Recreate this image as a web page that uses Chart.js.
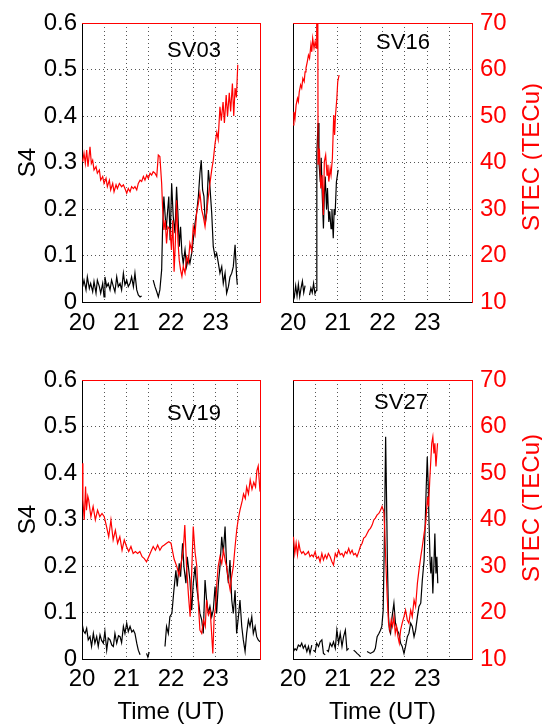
<!DOCTYPE html>
<html>
<head>
<meta charset="utf-8">
<script src="https://cdn.jsdelivr.net/npm/chart.js@4.4.0/dist/chart.umd.min.js"></script>
<style>
body { margin: 0; background: #fff; }
#wrap { position: relative; width: 542px; height: 727px; }
canvas { position: absolute; }
</style>
</head>
<body>
<div id="wrap">
  <canvas id="sv03" width="271" height="345" style="left:0;top:0"></canvas>
  <canvas id="sv16" width="271" height="345" style="left:271px;top:0"></canvas>
  <canvas id="sv19" width="271" height="382" style="left:0;top:345px"></canvas>
  <canvas id="sv27" width="271" height="382" style="left:271px;top:345px"></canvas>
</div>
<script>
// axis ticks
var timeTicks = [20, 21, 22, 23];
var s4Range = [0, 0.6];
var tecRange = [10, 70];

// [time (UT hours), S4] and [time, STEC (TECu)], null = gap
var sv03_s4 = [[20.015,0.033],[20.045,0.047],[20.09,0.026],[20.12,0.054],[20.165,0.029],[20.195,0.040],[20.24,0.022],[20.27,0.044],[20.315,0.019],[20.345,0.047],[20.39,0.033],[20.42,0.019],[20.465,0.040],[20.495,0.011],[20.515,0.054],[20.555,0.033],[20.59,0.040],[20.63,0.026],[20.665,0.047],[20.705,0.033],[20.74,0.022],[20.78,0.054],[20.815,0.033],[20.855,0.040],[20.89,0.026],[20.93,0.062],[20.965,0.037],[21.005,0.047],[21.04,0.033],[21.08,0.040],[21.115,0.054],[21.155,0.033],[21.19,0.062],[21.23,0.026],[21.265,0.015],[21.305,0.011],[21.34,0.013],[21.37,null],
  [21.6,0.047],[21.64,0.033],[21.68,0.022],[21.715,0.011],[21.75,0.026],[21.79,0.069],[21.81,0.155],[21.84,0.227],[21.89,0.155],[21.92,0.191],[21.95,0.227],[21.98,0.133],[22.015,0.255],[22.05,0.184],[22.09,0.148],[22.125,0.248],[22.155,0.191],[22.185,0.119],[22.215,0.162],[22.245,0.105],[22.275,0.083],[22.315,0.112],[22.35,0.076],[22.39,0.097],[22.425,0.083],[22.465,0.105],[22.5,0.133],[22.54,0.169],[22.575,0.191],[22.615,0.227],[22.65,0.277],[22.68,0.305],[22.71,0.241],[22.74,0.227],[22.77,0.169],[22.8,0.191],[22.84,0.284],[22.875,0.248],[22.915,0.191],[22.95,0.119],[22.99,0.097],[23.025,0.105],[23.065,0.083],[23.1,0.062],[23.14,0.076],[23.175,0.040],[23.215,0.062],[23.25,0.019],[23.29,0.033],[23.325,0.054],[23.365,0.062],[23.4,0.076],[23.44,0.123],[23.475,0.054],[23.49,0.037]];
var sv03_tec = [[20.015,40.2],[20.045,42.0],[20.075,39.8],[20.105,42.7],[20.135,39.1],[20.18,43.4],[20.21,39.8],[20.24,40.5],[20.27,38.4],[20.315,39.1],[20.345,37.7],[20.39,38.4],[20.42,36.2],[20.465,37.0],[20.495,35.5],[20.54,36.6],[20.57,34.8],[20.615,36.2],[20.645,34.1],[20.69,35.5],[20.72,33.7],[20.765,35.2],[20.795,34.4],[20.84,35.5],[20.89,34.8],[20.93,35.2],[20.965,34.4],[21.005,33.4],[21.04,34.4],[21.08,33.7],[21.115,34.8],[21.155,34.4],[21.19,34.8],[21.23,34.1],[21.265,35.5],[21.305,36.2],[21.34,35.9],[21.38,37.0],[21.415,36.2],[21.455,37.3],[21.49,36.6],[21.53,37.7],[21.565,37.3],[21.6,38.0],[21.64,37.7],[21.68,37.0],[21.715,41.6],[21.75,41.3],[21.79,35.5],[21.81,30.5],[21.84,25.5],[21.87,27.6],[21.9,22.6],[21.93,26.2],[21.98,25.5],[22.01,21.2],[22.04,27.6],[22.07,16.5],[22.1,23.3],[22.125,31.9],[22.155,23.3],[22.185,19.0],[22.215,16.9],[22.245,15.5],[22.275,17.6],[22.315,16.2],[22.35,19.7],[22.39,18.5],[22.425,22.6],[22.465,21.0],[22.5,26.2],[22.54,24.5],[22.575,29.1],[22.615,31.2],[22.65,33.4],[22.69,29.8],[22.725,28.4],[22.765,26.2],[22.8,29.1],[22.84,32.7],[22.875,35.5],[22.915,38.4],[22.95,40.5],[22.99,44.1],[23.03,46.5],[23.06,45.0],[23.1,52.0],[23.13,49.0],[23.17,53.0],[23.2,48.5],[23.24,54.5],[23.27,50.0],[23.31,55.0],[23.34,51.0],[23.38,57.0],[23.41,50.0],[23.44,56.0],[23.47,54.0],[23.5,61.0]];

var sv16_s4 = [[20.0,0.022],[20.03,0.011],[20.06,0.035],[20.09,0.013],[20.12,0.038],[20.15,0.012],[20.18,0.03],[20.21,0.045],[20.24,0.02],[20.27,0.035],[20.3,null],[20.37,0.015],[20.4,0.03],[20.43,0.02],[20.46,0.04],[20.49,0.018],[20.52,0.025],[20.53,0.04],[20.535,0.32],[20.56,0.385],[20.58,0.3],[20.61,0.258],[20.63,0.31],[20.65,0.24],[20.68,0.158],[20.7,0.23],[20.72,0.27],[20.75,0.2],[20.77,0.245],[20.8,0.172],[20.82,0.195],[20.85,0.158],[20.87,0.2],[20.9,0.137],[20.92,0.2],[20.94,0.187],[20.97,0.258],[21.01,0.284]];
var sv16_tec = [[20.0,48.1],[20.02,50.9],[20.045,49.5],[20.07,52.4],[20.1,53.8],[20.12,53.1],[20.14,55.2],[20.17,56.7],[20.195,56.0],[20.22,58.1],[20.25,57.4],[20.27,59.5],[20.29,60.3],[20.32,61.7],[20.345,63.1],[20.37,62.4],[20.4,65.3],[20.42,63.8],[20.44,66.7],[20.47,64.6],[20.495,66.0],[20.52,64.6],[20.53,72],[20.555,72],[20.56,39.5],[20.59,43.0],[20.62,34.4],[20.65,37.3],[20.68,28.7],[20.7,40.2],[20.73,41.6],[20.76,37.3],[20.78,39.5],[20.8,35.9],[20.83,38.7],[20.85,37.3],[20.88,40.9],[20.91,50.2],[20.93,45.9],[20.95,50.2],[20.98,53.8],[21.0,57.4],[21.03,58.8]];

var sv19_s4 = [[20.0,0.077],[20.035,0.06],[20.07,0.055],[20.105,0.066],[20.14,0.041],[20.18,0.048],[20.215,0.027],[20.255,0.055],[20.29,0.034],[20.33,0.048],[20.365,0.027],[20.405,0.052],[20.44,0.04],[20.48,0.034],[20.515,0.059],[20.555,0.019],[20.59,0.045],[20.63,0.041],[20.67,0.03],[20.705,0.027],[20.74,0.055],[20.78,0.034],[20.82,0.05],[20.855,0.048],[20.89,0.035],[20.93,0.070],[20.965,0.055],[21.005,0.077],[21.04,0.059],[21.08,0.070],[21.12,0.058],[21.155,0.062],[21.19,0.055],[21.23,0.034],[21.265,0.019],[21.305,0.009],[21.33,null],[21.45,0.012],[21.48,0.004],[21.51,0.015],[21.53,null],
  [21.865,0.027],[21.9,0.070],[21.94,0.055],[21.975,0.091],[22.02,0.098],[22.065,0.148],[22.11,0.191],[22.14,0.156],[22.185,0.206],[22.215,0.177],[22.26,0.249],[22.29,0.199],[22.335,0.163],[22.365,0.220],[22.425,0.170],[22.465,0.105],[22.5,0.163],[22.54,0.199],[22.575,0.156],[22.615,0.127],[22.65,0.098],[22.69,0.084],[22.725,0.055],[22.765,0.170],[22.8,0.127],[22.84,0.098],[22.875,0.113],[22.915,0.091],[22.95,0.105],[22.99,0.156],[23.025,0.098],[23.065,0.163],[23.1,0.199],[23.14,0.263],[23.175,0.227],[23.215,0.285],[23.25,0.199],[23.29,0.163],[23.325,0.213],[23.365,0.127],[23.4,0.098],[23.44,0.148],[23.475,0.055],[23.515,0.091],[23.55,0.127],[23.59,0.070],[23.625,0.041],[23.665,0.016],[23.7,0.055],[23.74,0.084],[23.775,0.070],[23.815,0.091],[23.85,0.055],[23.89,0.070],[23.925,0.048],[23.96,0.041],[24.0,0.037]];
var sv19_tec = [[20.0,52.1],[20.02,44.2],[20.05,39.9],[20.08,47.1],[20.1,42.0],[20.13,45.0],[20.15,44.2],[20.2,40.6],[20.25,42.8],[20.3,39.9],[20.35,42.0],[20.4,40.6],[20.45,41.3],[20.5,40.6],[20.55,38.5],[20.6,36.3],[20.65,39.9],[20.7,35.6],[20.75,37.7],[20.8,34.9],[20.85,36.3],[20.9,33.4],[20.95,35.6],[21.0,34.2],[21.05,33.1],[21.1,34.2],[21.15,32.7],[21.2,33.1],[21.25,32.7],[21.3,33.1],[21.35,32.0],[21.4,31.6],[21.45,30.9],[21.5,32.0],[21.55,33.1],[21.6,34.2],[21.65,33.4],[21.7,34.5],[21.75,33.4],[21.8,34.2],[21.85,34.5],[21.9,34.9],[21.95,35.2],[22.0,34.9],[22.02,34.9],[22.07,31.5],[22.13,29.9],[22.18,28.0],[22.24,31.3],[22.28,34.0],[22.31,38.8],[22.35,29.9],[22.39,24.0],[22.43,19.1],[22.47,30.0],[22.5,38.5],[22.54,33.0],[22.58,29.9],[22.62,21.0],[22.65,16.2],[22.69,15.5],[22.73,18.4],[22.77,17.0],[22.8,22.7],[22.84,19.5],[22.88,20.5],[22.91,16.0],[22.94,11.2],[22.97,19.1],[23.0,21.0],[23.03,26.3],[23.06,29.9],[23.1,32.0],[23.14,30.5],[23.18,33.4],[23.22,31.0],[23.25,29.9],[23.29,27.0],[23.33,24.8],[23.36,27.5],[23.4,29.9],[23.44,34.2],[23.48,38.0],[23.51,40.0],[23.55,42.0],[23.6,44.0],[23.63,45.5],[23.67,44.5],[23.7,47.0],[23.74,45.5],[23.78,48.5],[23.82,46.5],[23.86,48.0],[23.9,47.0],[23.93,50.5],[23.96,51.5],[24.0,46.0]];

var sv27_s4 = [[20.01,0.016],[20.045,0.022],[20.08,0.019],[20.12,0.03],[20.16,0.027],[20.195,0.034],[20.23,0.023],[20.27,0.030],[20.31,0.016],[20.345,0.027],[20.38,0.012],[20.42,0.030],[20.44,null],[20.455,0.019],[20.495,0.016],[20.53,0.034],[20.57,0.027],[20.605,0.037],[20.645,0.041],[20.68,0.012],[20.72,0.009],[20.74,null],[20.755,0.019],[20.79,0.016],[20.83,0.034],[20.87,0.027],[20.905,0.037],[20.945,0.023],[20.98,0.062],[21.02,0.034],[21.055,0.055],[21.095,0.027],[21.13,0.048],[21.17,0.062],[21.205,0.019],[21.245,0.023],[21.3,null],[21.355,0.019],[21.395,0.016],[21.43,0.012],[21.47,0.009],[21.505,0.005],[21.55,null],
  [21.655,0.016],[21.73,0.012],[21.805,0.016],[21.84,0.023],[21.88,0.048],[21.92,0.055],[21.955,0.062],[21.985,0.070],[22.015,0.105],[22.045,0.277],[22.07,0.478],[22.09,0.349],[22.11,0.206],[22.135,0.091],[22.155,0.062],[22.18,0.055],[22.215,0.091],[22.255,0.120],[22.29,0.077],[22.33,0.062],[22.365,0.055],[22.405,0.034],[22.44,0.027],[22.48,0.012],[22.515,0.027],[22.555,0.048],[22.59,0.055],[22.63,0.077],[22.665,0.070],[22.705,0.048],[22.74,0.062],[22.78,0.091],[22.815,0.113],[22.855,0.120],[22.89,0.170],[22.93,0.213],[22.95,0.277],[22.975,0.363],[23.0,0.435],[23.02,0.378],[23.04,0.292],[23.065,0.206],[23.08,0.184],[23.1,0.220],[23.125,0.141],[23.15,0.206],[23.17,0.270],[23.195,0.184],[23.215,0.220],[23.235,0.163]];
var sv27_tec = [[20.01,36.3],[20.04,32.7],[20.07,34.9],[20.1,32.4],[20.13,34.9],[20.16,33.4],[20.195,32.7],[20.23,33.1],[20.27,32.4],[20.31,32.7],[20.345,33.1],[20.38,32.0],[20.42,32.4],[20.455,32.0],[20.495,33.1],[20.53,31.6],[20.57,32.0],[20.605,30.9],[20.645,32.7],[20.68,31.3],[20.72,32.4],[20.755,31.6],[20.79,32.7],[20.83,32.0],[20.87,30.9],[20.905,30.2],[20.945,32.7],[20.98,32.0],[21.02,33.4],[21.055,32.4],[21.095,32.7],[21.13,32.0],[21.17,33.1],[21.205,32.7],[21.245,33.8],[21.28,32.7],[21.32,33.4],[21.355,32.4],[21.395,32.7],[21.43,32.0],[21.47,33.1],[21.505,34.2],[21.545,34.9],[21.58,36.0],[21.62,36.3],[21.655,37.0],[21.693,37.7],[21.73,38.1],[21.768,38.8],[21.805,39.9],[21.84,40.3],[21.88,41.0],[21.918,41.3],[21.955,42.0],[21.99,42.8],[22.03,41.7],[22.05,37.7],[22.075,30.6],[22.105,23.4],[22.135,17.7],[22.165,16.2],[22.195,18.4],[22.225,17.0],[22.255,19.1],[22.285,15.5],[22.315,17.0],[22.345,14.8],[22.375,13.4],[22.405,16.2],[22.44,17.7],[22.48,19.1],[22.515,20.5],[22.555,18.4],[22.59,17.7],[22.63,20.5],[22.665,19.1],[22.705,22.7],[22.74,21.3],[22.78,26.3],[22.815,29.1],[22.855,32.0],[22.89,34.2],[22.93,37.0],[22.965,39.2],[22.985,42.0],[23.01,44.9],[23.03,42.8],[23.056,48.5],[23.08,52.8],[23.1,56.4],[23.125,57.8],[23.15,54.2],[23.17,56.4],[23.195,51.4],[23.23,56.4]];

var fontName = "'Liberation Sans', Arial, sans-serif";

function toPoints(pairs) {
    return pairs.map(function (p) { return { x: p[0], y: p[1] }; });
}

// red top edge of the box, satellite name, right-hand axis title
var panelText = {
    id: 'panelText',
    afterDraw: function (chart, args, o) {
        var ctx = chart.ctx, a = chart.chartArea;
        ctx.save();
        ctx.strokeStyle = '#ff0000';
        ctx.lineWidth = 1;
        ctx.beginPath();
        ctx.moveTo(a.left, a.top + 0.5);
        ctx.lineTo(a.right, a.top + 0.5);
        ctx.stroke();
        ctx.fillStyle = '#000';
        ctx.textAlign = 'center';
        ctx.textBaseline = 'middle';
        ctx.font = '22px ' + fontName;
        ctx.fillText(o.label, o.lx, o.ly);
        if (o.stec) {
            ctx.translate(o.sx, o.sy);
            ctx.rotate(-Math.PI / 2);
            ctx.fillStyle = '#ff0000';
            ctx.font = '24px ' + fontName;
            ctx.fillText('STEC (TECu)', 0, 0);
        }
        ctx.restore();
    }
};

function makePanel(id, s4, tec, o) {
    var ctx = document.getElementById(id).getContext('2d');
    return new Chart(ctx, {
        type: 'line',
        data: {
            datasets: [{
                label: 'STEC',
                data: toPoints(tec),
                yAxisID: 'y1',
                borderColor: '#ff0000',
                borderWidth: 1.2
            }, {
                label: 'S4',
                data: toPoints(s4),
                yAxisID: 'y',
                borderColor: '#000000',
                borderWidth: 1.2
            }]
        },
        options: {
            responsive: false,
            animation: false,
            events: [],
            spanGaps: false,
            elements: { point: { radius: 0 }, line: { tension: 0 } },
            layout: { padding: { top: o.padTop, left: 0, right: 0, bottom: 0 } },
            plugins: {
                legend: { display: false },
                tooltip: { enabled: false },
                panelText: { label: o.label, lx: o.lx, ly: o.ly, stec: o.right, sx: o.sx, sy: o.sy }
            },
            scales: {
                x: {
                    type: 'linear',
                    min: 20,
                    max: 24,
                    afterFit: function (s) { s.height = o.xHeight; },
                    afterBuildTicks: function (s) {
                        s.ticks = [20, 20.5, 21, 21.5, 22, 22.5, 23, 23.5, 24].map(function (v) { return { value: v }; });
                    },
                    ticks: {
                        autoSkip: false,
                        maxRotation: 0,
                        padding: o.xPad,
                        color: '#000',
                        font: { family: fontName, size: 24 },
                        callback: function (v) { return timeTicks.indexOf(v) >= 0 ? String(v) : ''; }
                    },
                    grid: { drawTicks: false, color: '#555', lineWidth: 1 },
                    border: { color: '#000', width: 1, dash: [1, 3] },
                    title: {
                        display: o.bottom,
                        text: 'Time (UT)',
                        color: '#000',
                        font: { family: fontName, size: 24 },
                        padding: { top: 0, bottom: 0 }
                    }
                },
                y: {
                    position: 'left',
                    min: s4Range[0],
                    max: s4Range[1],
                    afterFit: function (s) { s.width = o.yW; },
                    ticks: {
                        display: !o.right,
                        stepSize: 0.1,
                        padding: 5,
                        color: '#000',
                        font: { family: fontName, size: 24 },
                        callback: function (v) { return String(Number(v.toFixed(1))); }
                    },
                    grid: { drawTicks: false, color: '#555', lineWidth: 1 },
                    border: { color: '#000', width: 1, dash: [1, 3] },
                    title: {
                        display: !o.right,
                        text: 'S4',
                        color: '#000',
                        font: { family: fontName, size: 24 },
                        padding: { top: 14, bottom: 0 }
                    }
                },
                y1: {
                    position: 'right',
                    min: tecRange[0],
                    max: tecRange[1],
                    afterFit: function (s) { s.width = o.y1W; },
                    ticks: {
                        display: o.right,
                        stepSize: 10,
                        padding: 8,
                        color: '#ff0000',
                        font: { family: fontName, size: 24 }
                    },
                    grid: { display: false, drawTicks: false },
                    border: { color: '#ff0000', width: 1 }
                }
            }
        },
        plugins: [panelText]
    });
}

makePanel('sv03', sv03_s4, sv03_tec, { label: 'SV03', lx: 194, ly: 51, right: false, bottom: false, padTop: 23, xHeight: 43, xPad: 7, yW: 82, y1W: 11 });
makePanel('sv16', sv16_s4, sv16_tec, { label: 'SV16', lx: 132, ly: 43, right: true, bottom: false, padTop: 23, xHeight: 43, xPad: 7, yW: 22, y1W: 70, sx: 261, sy: 157 });
makePanel('sv19', sv19_s4, sv19_tec, { label: 'SV19', lx: 194, ly: 69, right: false, bottom: true, padTop: 35, xHeight: 68, xPad: 6, yW: 82, y1W: 11 });
makePanel('sv27', sv27_s4, sv27_tec, { label: 'SV27', lx: 130, ly: 58, right: true, bottom: true, padTop: 35, xHeight: 68, xPad: 6, yW: 22, y1W: 70, sx: 261, sy: 163 });
</script>
</body>
</html>
